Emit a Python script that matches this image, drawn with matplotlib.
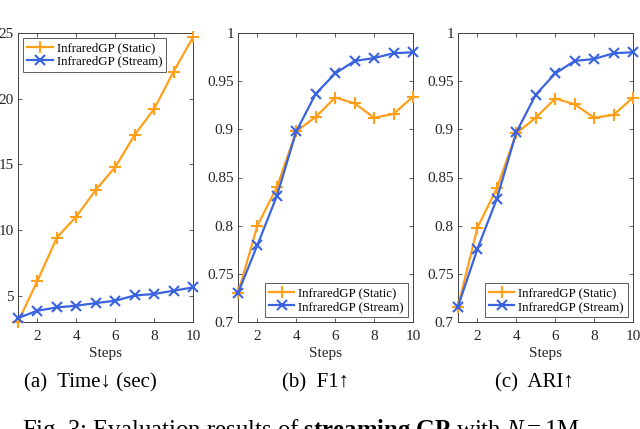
import matplotlib
matplotlib.use("Agg")
import matplotlib.pyplot as plt

plt.rcParams['font.family'] = ['Liberation Serif', 'DejaVu Serif']
plt.rcParams['mathtext.fontset'] = 'custom'
plt.rcParams['mathtext.rm'] = 'Liberation Serif'
plt.rcParams['mathtext.it'] = 'Liberation Serif:italic'
plt.rcParams['mathtext.bf'] = 'Liberation Serif:bold'

steps = [1, 2, 3, 4, 5, 6, 7, 8, 9, 10]
xticks = [2, 4, 6, 8, 10]

time_static = [3.0, 6.14, 9.43, 11.03, 13.06, 14.79, 17.24, 19.22, 22.06, 24.67]
time_stream = [3.3, 3.86, 4.11, 4.24, 4.44, 4.62, 5.02, 5.13, 5.38, 5.63]

f1_static = [0.730, 0.800, 0.840, 0.898, 0.913, 0.933, 0.927, 0.912, 0.916, 0.934]
f1_stream = [0.730, 0.780, 0.831, 0.898, 0.937, 0.958, 0.971, 0.974, 0.979, 0.980]

ari_static = [0.716, 0.798, 0.839, 0.896, 0.912, 0.932, 0.926, 0.912, 0.915, 0.933]
ari_stream = [0.716, 0.776, 0.828, 0.897, 0.936, 0.958, 0.971, 0.973, 0.979, 0.980]

labels = ["InfraredGP (Static)", "InfraredGP (Stream)"]
captions = ["(a)  Time\u2193 (sec)", "(b)  F1\u2191", "(c)  ARI\u2191"]
caption_x = [90, 316, 534]

ORANGE = '#FF9F1A'
BLUE = '#3A63E0'
AXC = '#404040'

W, H = 640, 429
fig = plt.figure(figsize=(6.4, 4.29), dpi=100)

def rect(l, r, t, b):
    return [l / W, 1 - b / H, (r - l) / W, (b - t) / H]

panels = [
    (rect(18, 193, 33, 322), time_static, time_stream, (3, 25), [5, 10, 15, 20, 25], ['5', '10', '15', '20', '25'], 'upper left'),
    (rect(238, 413, 33, 322), f1_static, f1_stream, (0.7, 1.0), [0.7, 0.75, 0.8, 0.85, 0.9, 0.95, 1.0],
     ['0.7', '0.75', '0.8', '0.85', '0.9', '0.95', '1'], 'lower right'),
    (rect(458, 633, 33, 322), ari_static, ari_stream, (0.7, 1.0), [0.7, 0.75, 0.8, 0.85, 0.9, 0.95, 1.0],
     ['0.7', '0.75', '0.8', '0.85', '0.9', '0.95', '1'], 'lower right'),
]

for i, (pos, s1, s2, ylim, yt, ytl, loc) in enumerate(panels):
    ax = fig.add_axes(pos)
    ax.plot(steps, s1, color=ORANGE, marker='+', markersize=9, markeredgewidth=1.5, linewidth=1.6, label=labels[0], clip_on=False, zorder=3)
    ax.plot(steps, s2, color=BLUE, marker='x', markersize=6.5, markeredgewidth=1.5, linewidth=1.6, label=labels[1], clip_on=False, zorder=3)
    ax.set_xlim(1, 10)
    ax.set_ylim(*ylim)
    ax.set_xticks(xticks)
    ax.set_yticks(yt)
    ax.set_yticklabels(ytl)
    ax.tick_params(direction='in', top=True, right=True, length=3, width=0.6, colors=AXC, labelsize=11, pad=3)
    ax.tick_params(axis='x', labelcolor='#262626', pad=6)
    ax.tick_params(axis='y', labelcolor='#262626')
    for sp in ax.spines.values():
        sp.set_color(AXC)
        sp.set_linewidth(0.7)
    ax.set_xlabel('Steps', fontsize=11, color='#262626', labelpad=3)
    leg = ax.legend(loc=loc, fontsize=9.3, frameon=True, fancybox=False, edgecolor='#333333',
                    handlelength=2.0, handletextpad=0.3, borderpad=0.3, labelspacing=0.12,
                    borderaxespad=0.4)
    leg.get_frame().set_linewidth(0.7)
    fig.text(caption_x[i] / W, 1 - 383 / H, captions[i], ha='center', va='center', fontsize=15)

fig.text(22 / W, 1 - 437 / H, r"Fig. 3: Evaluation results of $\mathbf{streaming\ GP}$ with $N = 1$M",
         ha='left', va='baseline', fontsize=17.8)

fig.savefig('out.png', dpi=100)
